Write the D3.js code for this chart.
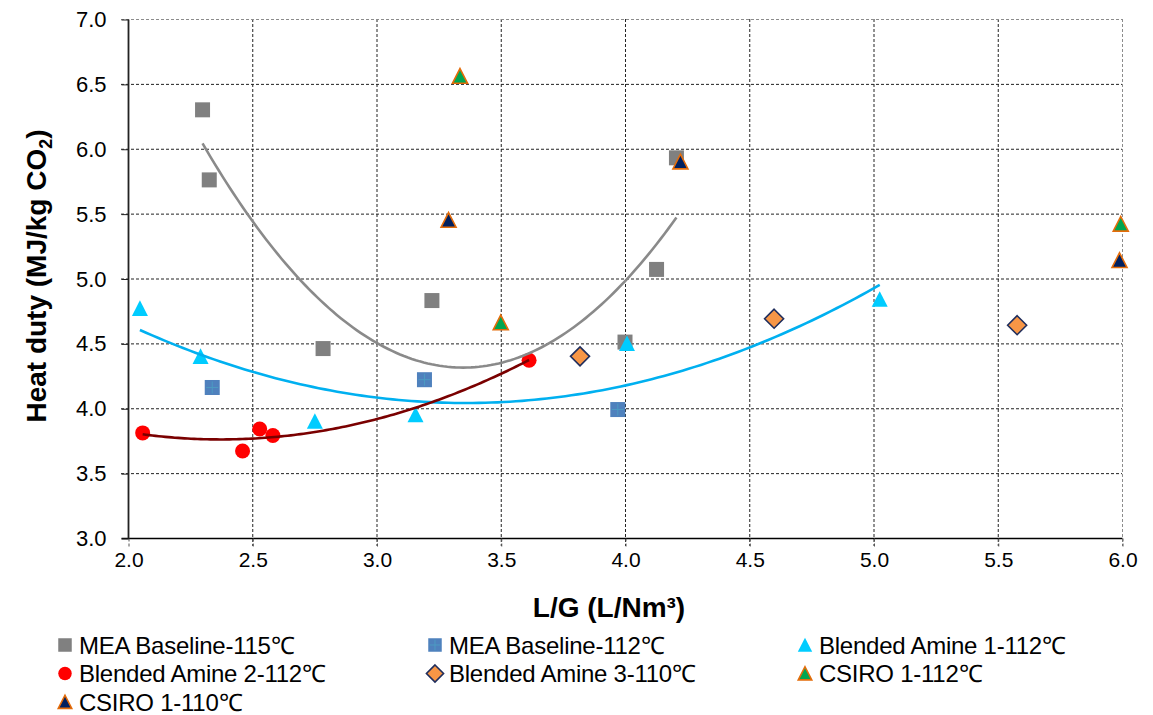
<!DOCTYPE html>
<html>
<head>
<meta charset="utf-8">
<script src="https://cdn.jsdelivr.net/npm/d3@7"></script>
<style>
  body { margin: 0; background: #fff; }
  svg { display: block; font-family: Arial, "Liberation Sans", sans-serif; }
</style>
</head>
<body>
<svg id="chart" width="1153" height="715"></svg>
<script>
// Axis ticks
const xTicks = [2.0, 2.5, 3.0, 3.5, 4.0, 4.5, 5.0, 5.5, 6.0];
const yTicks = [3.0, 3.5, 4.0, 4.5, 5.0, 5.5, 6.0, 6.5, 7.0];

// Measured points: [L/G (L/Nm3), heat duty (MJ/kg CO2)]
const meaBaseline115 = [[2.300, 6.30], [2.327, 5.76], [2.785, 4.46], [3.223, 4.83], [4.000, 4.51], [4.127, 5.07], [4.207, 5.93]];
const meaBaseline112 = [[2.339, 4.16], [3.193, 4.22], [3.971, 3.99]];
const blendedAmine1 = [[2.048, 4.77], [2.292, 4.40], [2.752, 3.90], [3.157, 3.95], [4.008, 4.50], [5.025, 4.84]];
const blendedAmine2 = [[2.059, 3.81], [2.461, 3.67], [2.530, 3.84], [2.583, 3.79], [3.614, 4.37]];
const blendedAmine3 = [[3.819, 4.40], [4.600, 4.69], [5.578, 4.64]];
const csiro112 = [[3.336, 6.56], [3.500, 4.66], [5.995, 5.42]];
const csiro110 = [[3.290, 5.45], [4.223, 5.90], [5.990, 5.14]];

const seriesNames = [
  "MEA Baseline-115\u2103", "MEA Baseline-112\u2103", "Blended Amine 1-112\u2103",
  "Blended Amine 2-112\u2103", "Blended Amine 3-110\u2103", "CSIRO 1-112\u2103",
  "CSIRO 1-110\u2103"
];

const series = [
  { name: seriesNames[0], data: meaBaseline115, shape: "square", fill: "#808080", stroke: "none", size: 15, trend: "#8a8a8a" },
  { name: seriesNames[1], data: meaBaseline112, shape: "squarePlus", fill: "#4f81bd", stroke: "none", size: 15 },
  { name: seriesNames[2], data: blendedAmine1, shape: "triangle", fill: "#00ccff", stroke: "none", size: 16, trend: "#00b0f0" },
  { name: seriesNames[3], data: blendedAmine2, shape: "circle", fill: "#ff0000", stroke: "none", size: 15, trend: "#7a0000" },
  { name: seriesNames[4], data: blendedAmine3, shape: "diamond", fill: "#f79646", stroke: "#1f2d5c", size: 19 },
  { name: seriesNames[5], data: csiro112, shape: "triangle", fill: "#00a651", stroke: "#e46c0a", size: 15 },
  { name: seriesNames[6], data: csiro110, shape: "triangle", fill: "#002060", stroke: "#e46c0a", size: 15 }
];

const svg = d3.select("#chart");
const plot = { left: 128, right: 1122, top: 19, bottom: 538 };

const x = d3.scaleLinear().domain([2.0, 6.0]).range([plot.left, plot.right]);
const y = d3.scaleLinear().domain([3.0, 7.0]).range([plot.bottom, plot.top]);

// Gridlines
const grid = svg.append("g");
grid.selectAll("line.vg").data(xTicks.filter(d => d > 2.0)).join("line")
  .attr("x1", d => x(d) + 0.5).attr("x2", d => x(d) + 0.5)
  .attr("y1", plot.top).attr("y2", plot.bottom + 8)
  .attr("stroke", d => d === 6.0 ? "#8c8c8c" : "#222")
  .attr("stroke-width", 1)
  .attr("stroke-dasharray", "3,2");
grid.selectAll("line.hg").data(yTicks.filter(d => d > 3.0)).join("line")
  .attr("x1", plot.left - 7).attr("x2", plot.right)
  .attr("y1", d => y(d) + 0.5).attr("y2", d => y(d) + 0.5)
  .attr("stroke", d => d === 7.0 ? "#8c8c8c" : "#222")
  .attr("stroke-width", 1)
  .attr("stroke-dasharray", "3,2");

// Axes
const xAxis = d3.axisBottom(x).tickValues(xTicks).tickSize(8).tickFormat(d3.format(".1f"));
const yAxis = d3.axisLeft(y).tickValues(yTicks).tickSize(7).tickFormat(d3.format(".1f"));

const gx = svg.append("g").attr("transform", `translate(0.5,${plot.bottom + 0.5})`).call(xAxis);
gx.select(".domain").attr("stroke", "#000").attr("stroke-width", 1.5).attr("d", `M${plot.left - 7},0H${plot.right}`);
gx.selectAll(".tick line").attr("stroke", "#555").attr("stroke-dasharray", "3,2");
gx.selectAll(".tick text").attr("font-size", 21).attr("fill", "#000").attr("y", 14)
  .attr("font-family", "Arial, 'Liberation Sans', sans-serif");

const gy = svg.append("g").attr("transform", `translate(${plot.left + 0.5},0.5)`).call(yAxis);
gy.select(".domain").attr("stroke", "#222").attr("stroke-width", 1.8).attr("d", `M0,${plot.top}V${plot.bottom}`);
gy.selectAll(".tick line").attr("stroke", "#222");
gy.selectAll(".tick text").attr("font-size", 22).attr("fill", "#000").attr("x", -22)
  .attr("font-family", "Arial, 'Liberation Sans', sans-serif");

// Marker shapes
function drawMarker(g, s, cx, cy, scale) {
  const k = scale || 1;
  const r = s.size * k / 2;
  let el;
  if (s.shape === "square" || s.shape === "squarePlus") {
    el = g.append("rect").attr("x", cx - r).attr("y", cy - r).attr("width", 2 * r).attr("height", 2 * r);
  } else if (s.shape === "circle") {
    el = g.append("circle").attr("cx", cx).attr("cy", cy).attr("r", r);
  } else if (s.shape === "diamond") {
    el = g.append("path").attr("d", `M${cx},${cy - r}L${cx + r},${cy}L${cx},${cy + r}L${cx - r},${cy}Z`);
  } else {
    el = g.append("path").attr("d", `M${cx},${cy - r}L${cx + r},${cy + r * 0.95}L${cx - r},${cy + r * 0.95}Z`);
  }
  el.attr("fill", s.fill)
    .attr("stroke", s.stroke)
    .attr("stroke-width", s.stroke === "none" ? 0 : 1.6)
    .attr("stroke-linejoin", "miter");
  if (s.shape === "squarePlus") {
    g.append("path")
      .attr("d", `M${cx - r * 0.8},${cy}H${cx + r * 0.8}M${cx},${cy - r * 0.8}V${cy + r * 0.8}`)
      .attr("stroke", "#4bacc6").attr("stroke-width", 1).attr("opacity", 0.6);
  }
}

const marks = svg.append("g");
series.forEach(s => {
  const g = marks.append("g");
  s.data.forEach(([dx, dy]) => drawMarker(g, s, x(dx), y(dy)));
});

// Second-order polynomial trendlines (least squares)
function quadFit(pts) {
  let S = [0, 0, 0, 0, 0], T = [0, 0, 0];
  pts.forEach(([a, b]) => {
    let p = 1;
    for (let i = 0; i < 5; i++) { S[i] += p; if (i < 3) T[i] += p * b; p *= a; }
  });
  const M = [[S[0], S[1], S[2], T[0]], [S[1], S[2], S[3], T[1]], [S[2], S[3], S[4], T[2]]];
  for (let i = 0; i < 3; i++) {
    let piv = i;
    for (let r = i + 1; r < 3; r++) if (Math.abs(M[r][i]) > Math.abs(M[piv][i])) piv = r;
    [M[i], M[piv]] = [M[piv], M[i]];
    for (let r = 0; r < 3; r++) {
      if (r === i) continue;
      const f = M[r][i] / M[i][i];
      for (let c = i; c < 4; c++) M[r][c] -= f * M[i][c];
    }
  }
  const c0 = M[0][3] / M[0][0], c1 = M[1][3] / M[1][1], c2 = M[2][3] / M[2][2];
  return v => c0 + c1 * v + c2 * v * v;
}

const trends = svg.append("g");
series.filter(s => s.trend).forEach(s => {
  const f = quadFit(s.data);
  const [lo, hi] = d3.extent(s.data, d => d[0]);
  const samples = d3.range(0, 121).map(i => lo + (hi - lo) * i / 120);
  trends.append("path")
    .attr("d", d3.line().x(v => x(v)).y(v => y(f(v)))(samples))
    .attr("fill", "none")
    .attr("stroke", s.trend)
    .attr("stroke-width", 2.6);
});

// Axis titles
svg.append("text")
  .attr("x", 609).attr("y", 617)
  .attr("text-anchor", "middle")
  .attr("font-size", 28).attr("font-weight", "bold")
  .text("L/G (L/Nm\u00b3)");

const yt = svg.append("text")
  .attr("transform", "translate(46,276) rotate(-90)")
  .attr("text-anchor", "middle")
  .attr("font-size", 28).attr("font-weight", "bold");
yt.append("tspan").text("Heat duty (MJ/kg CO");
yt.append("tspan").attr("font-size", 18).attr("dy", 6).text("2");
yt.append("tspan").attr("dy", -6).text(")");

// Legend
const legCols = [65, 435, 805];
const legRows = [645, 673.5, 702];
const legend = svg.append("g");
series.forEach((s, i) => {
  const cx = legCols[i % 3], cy = legRows[Math.floor(i / 3)];
  const g = legend.append("g");
  drawMarker(g, s, cx, cy, 0.9);
  g.append("text")
    .attr("x", cx + 14).attr("y", cy + 8.5)
    .attr("font-size", 24)
    .attr("letter-spacing", -0.25)
    .text(s.name);
});
</script>
</body>
</html>
